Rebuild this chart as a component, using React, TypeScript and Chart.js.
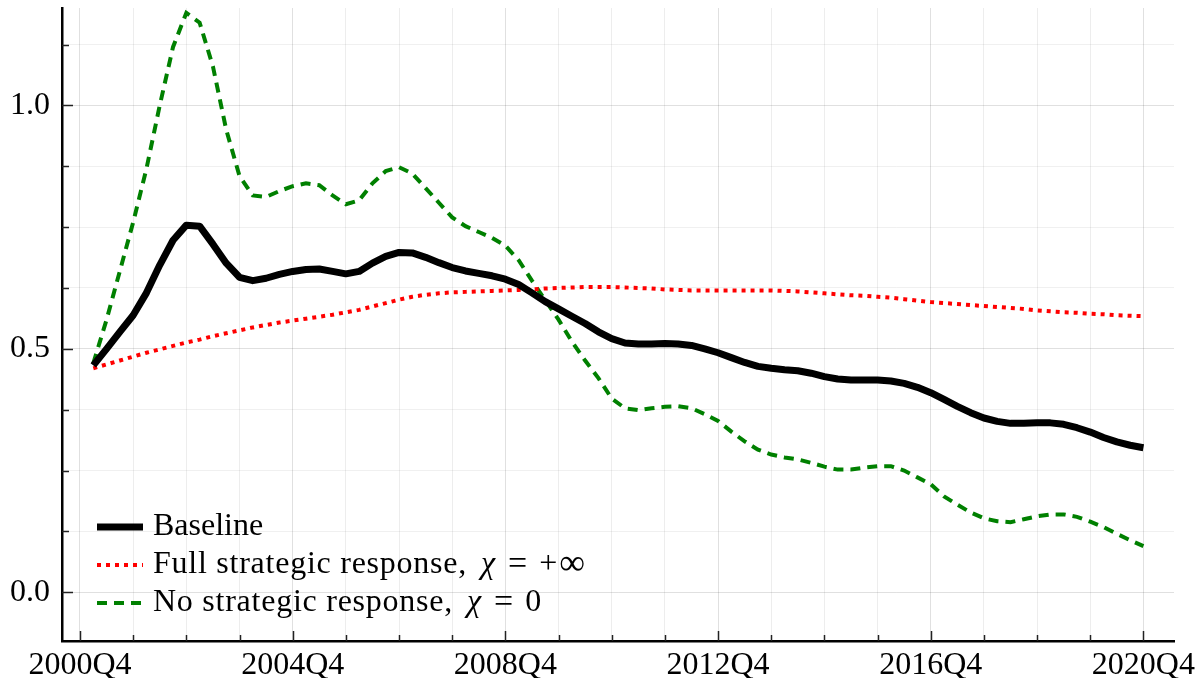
import { useEffect, useRef } from "react";
import { Chart, registerables } from "chart.js";

Chart.register(...registerables);

// Quarter index: 0 = 2000Q4, 1 = 2001Q1, ..., 80 = 2020Q4
const quarters: number[] = Array.from({ length: 80 }, (_, i) => i + 1);

const baseline: number[] = [
  0.466, 0.500, 0.535, 0.569, 0.615, 0.672, 0.723, 0.754, 0.752, 0.715,
  0.676, 0.647, 0.640, 0.645, 0.653, 0.659, 0.663, 0.664, 0.659, 0.654,
  0.659, 0.676, 0.690, 0.698, 0.697, 0.688, 0.677, 0.667, 0.660, 0.655,
  0.650, 0.643, 0.632, 0.615, 0.597, 0.582, 0.567, 0.552, 0.535, 0.521,
  0.512, 0.510, 0.510, 0.511, 0.510, 0.507, 0.500, 0.492, 0.482, 0.472,
  0.464, 0.460, 0.457, 0.455, 0.450, 0.443, 0.438, 0.436, 0.436, 0.436,
  0.434, 0.429, 0.421, 0.410, 0.396, 0.382, 0.369, 0.358, 0.351, 0.347,
  0.347, 0.348, 0.348, 0.345, 0.338, 0.329, 0.318, 0.309, 0.302, 0.297,
];

const fullResponse: number[] = [
  0.460, 0.468, 0.476, 0.484, 0.492, 0.499, 0.506, 0.513, 0.519, 0.526,
  0.532, 0.538, 0.544, 0.549, 0.554, 0.558, 0.562, 0.566, 0.570, 0.575,
  0.580, 0.587, 0.594, 0.601, 0.607, 0.611, 0.614, 0.616, 0.617, 0.618,
  0.619, 0.620, 0.621, 0.622, 0.624, 0.625, 0.626, 0.627, 0.627, 0.627,
  0.626, 0.625, 0.624, 0.622, 0.621, 0.620, 0.620, 0.620, 0.620, 0.620,
  0.620, 0.620, 0.619, 0.618, 0.616, 0.614, 0.612, 0.610, 0.609, 0.607,
  0.605, 0.602, 0.599, 0.596, 0.594, 0.592, 0.590, 0.588, 0.586, 0.584,
  0.582, 0.579, 0.577, 0.575, 0.574, 0.572, 0.571, 0.569, 0.568, 0.567,
];

const noResponse: number[] = [
  0.470, 0.560, 0.660, 0.760, 0.870, 1.000, 1.120, 1.190, 1.170, 1.080,
  0.950, 0.855, 0.815, 0.812, 0.824, 0.834, 0.840, 0.836, 0.815, 0.797,
  0.805, 0.840, 0.865, 0.873, 0.860, 0.830, 0.800, 0.770, 0.752, 0.740,
  0.728, 0.712, 0.682, 0.640, 0.600, 0.560, 0.515, 0.476, 0.440, 0.398,
  0.378, 0.374, 0.378, 0.381, 0.382, 0.378, 0.366, 0.352, 0.330, 0.310,
  0.293, 0.283, 0.277, 0.273, 0.266, 0.258, 0.252, 0.252, 0.256, 0.259,
  0.259, 0.250, 0.236, 0.222, 0.197, 0.180, 0.164, 0.152, 0.146, 0.144,
  0.150, 0.156, 0.160, 0.160, 0.155, 0.145, 0.134, 0.120, 0.107, 0.095,
];

const xGridValues: number[] = [0, 4, 8, 12, 16, 20, 24, 28, 32, 36, 40, 44, 48, 52, 56, 60, 64, 68, 72, 76, 80];
const xMajorValues: number[] = [0, 16, 32, 48, 64, 80];
const xTickLabels: string[] = ["2000Q4", "2004Q4", "2008Q4", "2012Q4", "2016Q4", "2020Q4"];

const yGridValues: number[] = [0, 0.125, 0.25, 0.375, 0.5, 0.625, 0.75, 0.875, 1.0, 1.125];
const yMajorValues: number[] = [0, 0.5, 1.0];
const yTickLabels: string[] = ["0.0", "0.5", "1.0"];

const seriesLabels: string[] = ["Baseline", "Full strategic response,", "No strategic response,"];
const seriesValue: string[] = ["", "+∞", "0"];

const FONT = "'Liberation Serif', 'Times New Roman', serif";

const isMajor = (list: number[], v: number) => list.some((m) => Math.abs(m - v) < 1e-9);

export default function App() {
  const ref = useRef<HTMLCanvasElement | null>(null);

  useEffect(() => {
    document.body.style.margin = "0";
    document.body.style.overflow = "hidden";
    const canvas = ref.current;
    if (!canvas) return;

    const mk = (vals: number[]) => vals.map((y, i) => ({ x: quarters[i], y }));

    const tickPlugin = {
      id: "inwardTicks",
      afterDraw(chart: any) {
        const { ctx, chartArea, scales } = chart;
        ctx.save();
        ctx.strokeStyle = "#222";
        ctx.lineWidth = 1.5;
        for (const v of xGridValues) {
          const px = Math.round(scales.x.getPixelForValue(v)) + 0.5;
          const len = isMajor(xMajorValues, v) ? 10 : 6;
          ctx.beginPath();
          ctx.moveTo(px, chartArea.bottom);
          ctx.lineTo(px, chartArea.bottom - len);
          ctx.stroke();
        }
        for (const v of yGridValues) {
          const py = Math.round(scales.y.getPixelForValue(v)) + 0.5;
          const len = isMajor(yMajorValues, v) ? 11 : 7;
          ctx.beginPath();
          ctx.moveTo(chartArea.left, py);
          ctx.lineTo(chartArea.left + len, py);
          ctx.stroke();
        }
        ctx.restore();
      },
    };

    const legendPlugin = {
      id: "innerLegend",
      afterDatasetsDraw(chart: any) {
        const { ctx } = chart;
        const rows = [527, 565, 603];
        const x0 = 97;
        const x1 = 143;
        const tx = 153;
        ctx.save();
        chart.data.datasets.forEach((ds: any, i: number) => {
          const y = rows[i];
          ctx.beginPath();
          ctx.strokeStyle = ds.borderColor;
          ctx.lineWidth = ds.borderWidth;
          ctx.setLineDash(ds.borderDash || []);
          ctx.lineCap = "butt";
          ctx.moveTo(x0, y);
          ctx.lineTo(x1, y);
          ctx.stroke();
          ctx.setLineDash([]);
          ctx.fillStyle = "#000";
          ctx.textBaseline = "middle";
          ctx.textAlign = "left";
          ctx.font = `32px ${FONT}`;
          (ctx as any).letterSpacing = seriesValue[i] ? "0.75px" : "0px";
          let cx = tx;
          ctx.fillText(seriesLabels[i], cx, y);
          cx += ctx.measureText(seriesLabels[i]).width;
          (ctx as any).letterSpacing = "0px";
          if (seriesValue[i]) {
            cx += 14;
            ctx.font = `italic 32px ${FONT}`;
            ctx.fillText("χ", cx, y);
            cx += ctx.measureText("χ").width + 13;
            ctx.font = `34px ${FONT}`;
            ctx.fillText("=", cx, y);
            cx += ctx.measureText("=").width + 12;
            ctx.font = `32px ${FONT}`;
            if (seriesValue[i] === "+∞") {
              ctx.fillText("+", cx, y);
              cx += ctx.measureText("+").width + 2;
              ctx.font = `36px ${FONT}`;
              ctx.fillText("∞", cx, y);
            } else {
              ctx.fillText(seriesValue[i], cx, y);
            }
          }
        });
        ctx.restore();
      },
    };

    const chart = new Chart(canvas, {
      type: "line",
      data: {
        datasets: [
          {
            label: "Baseline",
            data: mk(baseline),
            borderColor: "#000000",
            borderWidth: 7,
            pointRadius: 0,
            tension: 0,
            borderJoinStyle: "round",
            fill: false,
          },
          {
            label: "Full strategic response, χ = +∞",
            data: mk(fullResponse),
            borderColor: "#ff0000",
            borderWidth: 4,
            borderDash: [4, 5],
            pointRadius: 0,
            tension: 0,
            fill: false,
          },
          {
            label: "No strategic response, χ = 0",
            data: mk(noResponse),
            borderColor: "#008000",
            borderWidth: 4,
            borderDash: [10, 7],
            pointRadius: 0,
            tension: 0,
            fill: false,
          },
        ],
      } as any,
      options: {
        animation: false,
        responsive: false,
        maintainAspectRatio: false,
        layout: { padding: { top: 8, right: 24, left: 0, bottom: 0 } },
        plugins: { legend: { display: false }, tooltip: { enabled: false } },
        scales: {
          x: {
            type: "linear",
            min: -1.354,
            max: 82.3,
            afterBuildTicks: (s: any) => {
              s.ticks = xGridValues.map((v) => ({ value: v }));
            },
            afterFit: (s: any) => {
              s.height = 37;
              s.paddingLeft = 0;
              s.paddingRight = 0;
            },
            grid: {
              drawTicks: false,
              lineWidth: 1,
              color: (c: any) =>
                c.tick && isMajor(xMajorValues, c.tick.value) ? "rgba(0,0,0,0.12)" : "rgba(0,0,0,0.07)",
            },
            border: { color: "#000", width: 2.5 },
            ticks: {
              autoSkip: false,
              maxRotation: 0,
              padding: 5,
              color: "#000",
              font: { family: FONT, size: 32 },
              callback: (v: any) => {
                const idx = xMajorValues.findIndex((m) => Math.abs(m - v) < 1e-9);
                return idx >= 0 ? xTickLabels[idx] : "";
              },
            },
          },
          y: {
            type: "linear",
            min: -0.1,
            max: 1.2,
            afterBuildTicks: (s: any) => {
              s.ticks = yGridValues.map((v) => ({ value: v }));
            },
            afterFit: (s: any) => {
              s.width = 62;
              s.paddingTop = 0;
              s.paddingBottom = 0;
            },
            grid: {
              drawTicks: false,
              lineWidth: 1,
              color: (c: any) =>
                c.tick && isMajor(yMajorValues, c.tick.value) ? "rgba(0,0,0,0.12)" : "rgba(0,0,0,0.06)",
            },
            border: { color: "#000", width: 2.5 },
            ticks: {
              autoSkip: false,
              padding: 12,
              color: "#000",
              font: { family: FONT, size: 32 },
              callback: (v: any) => {
                const idx = yMajorValues.findIndex((m) => Math.abs(m - v) < 1e-9);
                return idx >= 0 ? yTickLabels[idx] : "";
              },
            },
          },
        },
      } as any,
      plugins: [tickPlugin, legendPlugin],
    });

    return () => chart.destroy();
  }, []);

  return <canvas ref={ref} width={1198} height={678} style={{ display: "block" }} />;
}
